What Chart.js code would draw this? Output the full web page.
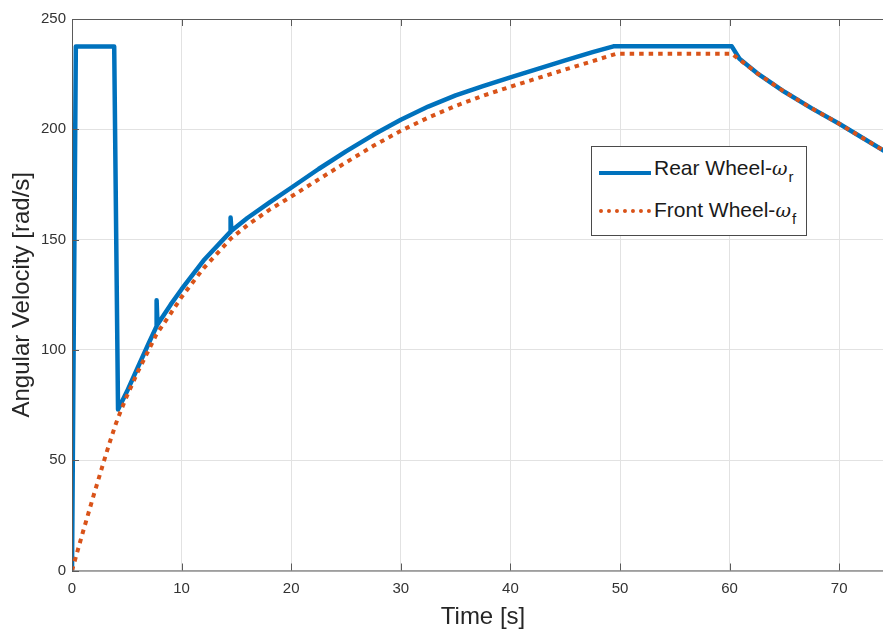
<!DOCTYPE html>
<html>
<head>
<meta charset="utf-8">
<script src="https://cdn.jsdelivr.net/npm/chart.js@4/dist/chart.umd.min.js"></script>
<style>
  html, body { margin: 0; padding: 0; background: #fff; }
  #wrap { position: relative; width: 883px; height: 635px; overflow: hidden; }
  #c { position: absolute; left: 0; top: 0; }
  #legend {
    position: absolute; left: 591px; top: 146px; width: 214px; height: 88px;
    border: 1px solid #4a4a4a; background: #fff;
    font-family: "Liberation Sans", Arial, sans-serif; font-size: 21px; color: #1a1a1a;
  }
  .row { position: absolute; left: 0; width: 100%; height: 40px; }
  .sample { position: absolute; left: 7px; width: 52px; height: 0; }
  .lbl { position: absolute; left: 62px; white-space: nowrap; line-height: 21px; }
  .lbl sub { font-size: 15px; position: relative; top: 7px; vertical-align: baseline; margin-left: 1px; }
  .lbl i { font-family: "DejaVu Serif", serif; font-size: 19px; }
</style>
</head>
<body>
<div id="wrap">
  <canvas id="c" width="894" height="635"></canvas>
  <div id="legend"></div>
</div>
<script>
// ---- data ----
const rearTime  = [0, 0.35, 3.85, 4.2, 5, 6, 7, 7.7, 7.72, 7.8, 9, 10, 12, 14.45, 14.47, 14.55, 16, 18, 20, 22.5, 25, 27.5, 30, 32.5, 35, 37.5, 40, 42.5, 45, 47.5, 49.4, 60.2, 60.9, 62.5, 65, 67.5, 70, 72, 75];
const rearOmega = [0, 237.5, 237.5, 73, 81, 92, 103, 110.5, 122.5, 111.5, 120.5, 127.5, 140.5, 153.5, 160, 154, 159.8, 166.8, 173.5, 182, 190, 197.5, 204.3, 210.3, 215.4, 219.6, 223.5, 227.4, 231.2, 235, 237.6, 237.6, 232, 225.5, 217, 209.5, 202.5, 196.5, 187.5];

const frontTime  = [0, 1, 2, 3, 3.5, 4, 4.5, 5, 6, 7, 7.7, 9, 10, 12, 14.5, 16, 18, 20, 22.5, 25, 27.5, 30, 32.5, 35, 37.5, 40, 42.5, 45, 47.5, 49.7, 60.2, 62.5, 65, 67.5, 70, 72, 75];
const frontOmega = [0, 17.5, 34.5, 51, 59, 66.5, 73, 79, 90, 100, 107, 116.5, 124, 137, 150.5, 156.5, 163.5, 169.5, 177.3, 185, 192.5, 199.3, 205.3, 210.6, 215.2, 219.3, 223.2, 227.1, 230.9, 234.3, 234.3, 225.5, 217, 209.5, 202.5, 196.5, 187.5];

const seriesNames = ["Rear Wheel-", "Front Wheel-"];
const seriesSubs  = ["r", "f"];
const xTickValues = [0, 10, 20, 30, 40, 50, 60, 70];
const yTickValues = [0, 50, 100, 150, 200, 250];
const xTitle = "Time [s]";
const yTitle = "Angular Velocity [rad/s]";

const BLUE = "#0072BD", ORANGE = "#D95319";

const toPts = (xs, ys) => xs.map((x, i) => ({ x: x, y: ys[i] }));

const framePlugin = {
  id: "frame",
  afterDatasetsDraw(chart) {
    const { ctx, chartArea: a, scales } = chart;
    ctx.save();
    ctx.strokeStyle = "#5a5a5a";
    ctx.lineWidth = 1;
    ctx.beginPath();
    ctx.moveTo(a.left, a.top + 0.5); ctx.lineTo(a.right, a.top + 0.5);
    ctx.moveTo(a.left + 0.5, a.top); ctx.lineTo(a.left + 0.5, a.bottom);
    ctx.moveTo(a.left, a.bottom + 0.5); ctx.lineTo(a.right, a.bottom + 0.5);
    const L = 7;
    scales.x.ticks.forEach(t => {
      const px = Math.round(scales.x.getPixelForValue(t.value)) + 0.5;
      ctx.moveTo(px, a.bottom); ctx.lineTo(px, a.bottom - L);
      ctx.moveTo(px, a.top); ctx.lineTo(px, a.top + L);
    });
    scales.y.ticks.forEach(t => {
      const py = Math.round(scales.y.getPixelForValue(t.value)) + 0.5;
      ctx.moveTo(a.left, py); ctx.lineTo(a.left + L, py);
    });
    ctx.stroke();
    ctx.restore();
  }
};

Chart.defaults.font.family = '"Liberation Sans", Arial, sans-serif';

const chart = new Chart(document.getElementById("c"), {
  type: "line",
  data: {
    datasets: [
      { label: seriesNames[0] + "ω" + seriesSubs[0], data: toPts(rearTime, rearOmega),
        borderColor: BLUE, borderWidth: 4.5, pointRadius: 0, tension: 0,
        borderJoinStyle: "round", borderCapStyle: "round", order: 2 },
      { label: seriesNames[1] + "ω" + seriesSubs[1], data: toPts(frontTime, frontOmega),
        borderColor: ORANGE, borderWidth: 4, borderDash: [4.5, 5], pointRadius: 0, tension: 0,
        borderCapStyle: "butt", order: 1 }
    ]
  },
  options: {
    responsive: false,
    animation: false,
    events: [],
    layout: { padding: { top: 19, right: 0, left: 0, bottom: 0 } },
    plugins: { legend: { display: false }, tooltip: { enabled: false } },
    scales: {
      x: {
        type: "linear", min: 0, max: 75,
        afterBuildTicks: s => { s.ticks = xTickValues.map(v => ({ value: v })); },
        afterFit: s => { s.height = 64.5; },
        grid: { color: "#e2e2e2", lineWidth: 1, drawTicks: false },
        border: { display: false },
        ticks: { color: "#333", font: { size: 15 }, padding: 9, maxRotation: 0 },
        title: { display: true, text: xTitle, color: "#262626", font: { size: 24 }, padding: { top: 0, bottom: 3 } }
      },
      y: {
        type: "linear", min: 0, max: 250,
        afterBuildTicks: s => { s.ticks = yTickValues.map(v => ({ value: v })); },
        afterFit: s => { s.width = 72; },
        grid: { color: "#e2e2e2", lineWidth: 1, drawTicks: false },
        border: { display: false },
        ticks: { color: "#333", font: { size: 15 }, padding: 6 },
        title: { display: true, text: yTitle, color: "#262626", font: { size: 24 }, padding: { top: 8, bottom: 4 } }
      }
    }
  },
  plugins: [framePlugin]
});

// HTML legend with subscripts
const legend = document.getElementById("legend");
const styles = [
  { top: 6, sampleTop: 18, lblTop: 4, css: "border-top: 4.5px solid " + BLUE },
  { top: 45, sampleTop: 17, lblTop: 7, css: "border-top: 4px dotted " + ORANGE }
];
seriesNames.forEach((name, i) => {
  const row = document.createElement("div");
  row.className = "row";
  row.style.top = styles[i].top + "px";
  const smp = document.createElement("div");
  smp.className = "sample";
  smp.style.cssText = styles[i].css + "; top:" + styles[i].sampleTop + "px";
  const lbl = document.createElement("div");
  lbl.className = "lbl";
  lbl.style.top = styles[i].lblTop + "px";
  lbl.innerHTML = name + "<i>ω</i><sub>" + seriesSubs[i] + "</sub>";
  row.appendChild(smp); row.appendChild(lbl);
  legend.appendChild(row);
});
</script>
</body>
</html>
